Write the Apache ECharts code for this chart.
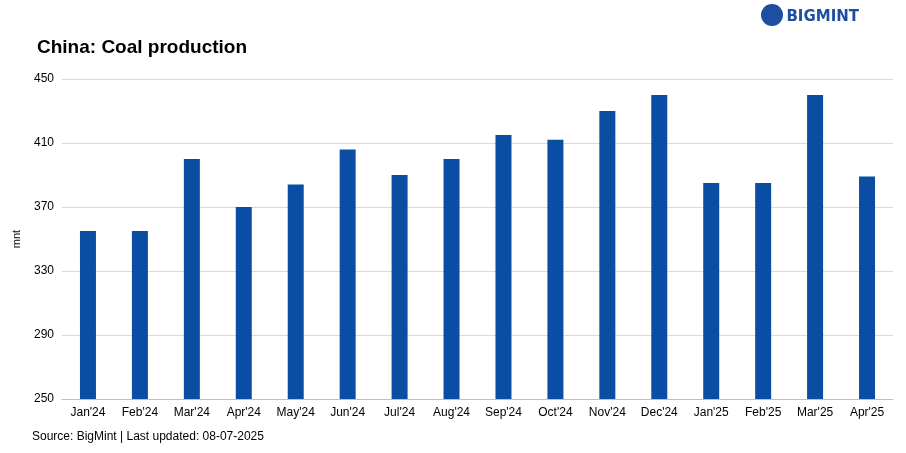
<!DOCTYPE html>
<html>
<head>
<meta charset="utf-8">
<script src="https://cdn.jsdelivr.net/npm/echarts@6/dist/echarts.min.js"></script>
<style>html,body{margin:0;padding:0;background:#fff}#chart{width:906px;height:453px}</style>
</head>
<body>
<div id="chart"></div>
<script>
var months = ["Jan'24","Feb'24","Mar'24","Apr'24","May'24","Jun'24","Jul'24","Aug'24","Sep'24","Oct'24","Nov'24","Dec'24","Jan'25","Feb'25","Mar'25","Apr'25"];
var production = [355, 355, 400, 370, 384, 406, 390, 400, 415, 412, 430, 440, 385, 385, 440, 389];

var myChart = echarts.init(document.getElementById('chart'));
var option = {
    animation: false,
    title: [{
        text: 'China: Coal production',
        left: 32, top: 33,
        textStyle: {fontFamily: 'Liberation Sans', fontSize: 19, fontWeight: 'bold', color: '#000'}
    }, {
        text: 'BIGMINT',
        right: 42, top: 5,
        textStyle: {fontFamily: 'DejaVu Sans', fontSize: 15, fontWeight: 'bold', color: '#1d4fa0'}
    }],
    graphic: [{
        type: 'circle', shape: {cx: 772, cy: 15, r: 11}, style: {fill: '#1d4fa0'}
    }, {
        type: 'text', left: 32, top: 431,
        style: {text: 'Source: BigMint | Last updated: 08-07-2025', font: '12px Liberation Sans', fill: '#000'}
    }],
    grid: {left: 62, right: 13, top: 79, bottom: 54},
    xAxis: {
        type: 'category',
        data: months,
        axisTick: {show: false},
        axisLine: {lineStyle: {color: '#bfbfbf'}},
        axisLabel: {color: '#000', fontFamily: 'Liberation Sans', fontSize: 12}
    },
    yAxis: {
        type: 'value',
        min: 250, max: 450, interval: 40,
        name: 'mnt', nameLocation: 'middle', nameGap: 40,
        nameTextStyle: {color: '#000', fontFamily: 'Liberation Sans', fontSize: 11},
        splitLine: {lineStyle: {color: '#d9d9d9'}},
        axisLabel: {color: '#000', fontFamily: 'Liberation Sans', fontSize: 12}
    },
    series: [{
        type: 'bar',
        data: production,
        barWidth: 16,
        itemStyle: {color: '#0a4ea3'}
    }]
};
myChart.setOption(option);
</script>
</body>
</html>
